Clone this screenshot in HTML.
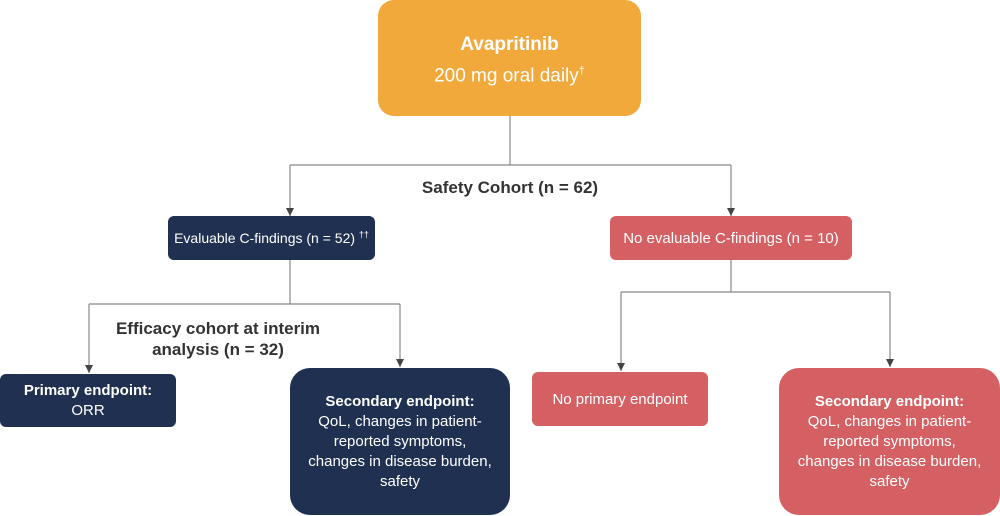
<!DOCTYPE html>
<html><head><style>
body{margin:0;width:1000px;height:516px;background:#fff;position:relative;overflow:hidden;font-family:"Liberation Sans",sans-serif}
.b{position:absolute;display:flex;flex-direction:column;justify-content:center;align-items:center;text-align:center;color:#fff;box-sizing:border-box}
.n{background:#1F3050}.r{background:#D46063}
.t{position:absolute;font-weight:bold;color:#333;text-align:center}
</style></head><body>
<svg width="1000" height="516" style="position:absolute;left:0;top:0">
<defs><marker id="a" markerWidth="8" markerHeight="8" refX="8" refY="4" orient="auto" markerUnits="userSpaceOnUse"><path d="M0,0 L8,4 L0,8z" fill="#444"/></marker></defs>
<g stroke="#888" stroke-width="1.2" fill="none">
<path d="M510,116 V165 M290,165 H731"/>
<path d="M290,165 V216" marker-end="url(#a)"/>
<path d="M731,165 V216" marker-end="url(#a)"/>
<path d="M290,260 V304 M89,304 H400"/>
<path d="M89,304 V373" marker-end="url(#a)"/>
<path d="M400,304 V367" marker-end="url(#a)"/>
<path d="M731,260 V292 M621,292 H890"/>
<path d="M621,292 V371" marker-end="url(#a)"/>
<path d="M890,292 V367" marker-end="url(#a)"/>
</g></svg>
<div class="b" style="left:378px;top:0;width:263px;height:116px;background:#F2A93B;border-radius:16px;font-size:19px;line-height:27px;padding-top:4px"><b>Avapritinib</b><span>200 mg oral daily<sup style="font-size:11px">†</sup></span></div>
<div class="t" style="left:360px;top:178px;width:300px;font-size:17px">Safety Cohort (n = 62)</div>
<div class="b n" style="left:168px;top:216px;width:207px;height:44px;border-radius:6px;font-size:14px;display:block;line-height:44px;white-space:nowrap">Evaluable C-findings (n = 52) <sup style="font-size:9px;line-height:0">††</sup></div>
<div class="b r" style="left:610px;top:216px;width:242px;height:44px;border-radius:6px;font-size:15px">No evaluable C-findings (n = 10)</div>
<div class="t" style="left:103px;top:318px;width:230px;font-size:17px;line-height:21px">Efficacy cohort at interim analysis (n = 32)</div>
<div class="b n" style="left:0;top:374px;width:176px;height:53px;border-radius:6px;font-size:15px;line-height:20px"><b>Primary endpoint:</b>ORR</div>
<div class="b n" style="left:290px;top:368px;width:220px;height:147px;border-radius:20px;font-size:15px;line-height:20px"><b>Secondary endpoint:</b>QoL, changes in patient-<br>reported symptoms,<br>changes in disease burden,<br>safety</div>
<div class="b r" style="left:532px;top:372px;width:176px;height:54px;border-radius:6px;font-size:15px">No primary endpoint</div>
<div class="b r" style="left:779px;top:368px;width:221px;height:147px;border-radius:20px;font-size:15px;line-height:20px"><b>Secondary endpoint:</b>QoL, changes in patient-<br>reported symptoms,<br>changes in disease burden,<br>safety</div>
</body></html>
